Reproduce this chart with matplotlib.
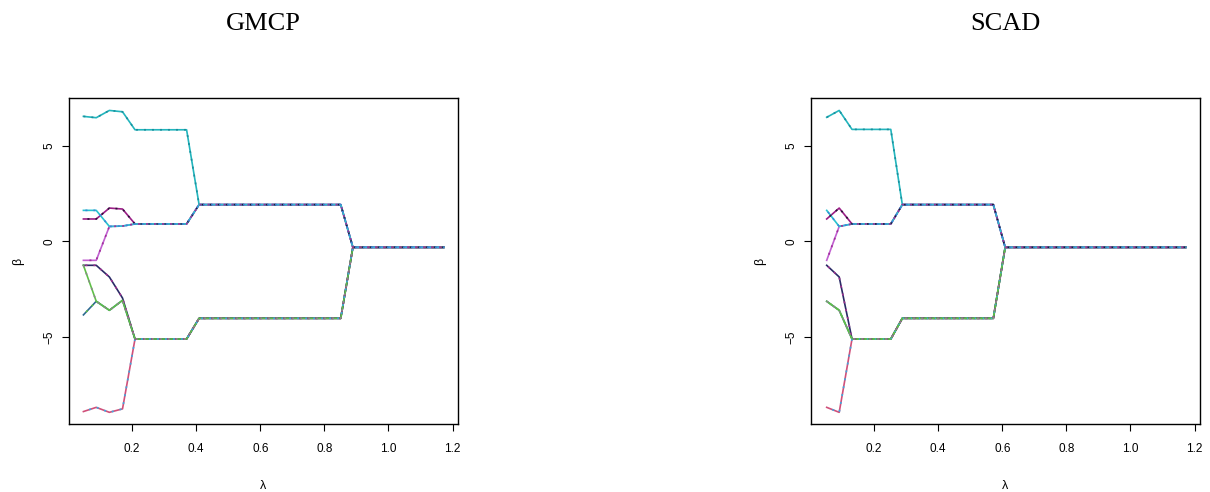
import matplotlib
matplotlib.use("Agg")
import matplotlib.pyplot as plt

# lambda grid points where the paths bend
gmcp_lambda = [0.048, 0.088, 0.129, 0.170, 0.209, 0.370, 0.409, 0.851, 0.889, 1.173]
scad_lambda = [0.052, 0.091, 0.131, 0.252, 0.288, 0.572, 0.609, 1.173]

# coefficient paths, GMCP
gmcp_paths = {
    "top":    [6.53, 6.46, 6.84, 6.77, 5.83, 5.83, 1.92, 1.92, -0.31, -0.31],
    "mid_a":  [1.62, 1.62, 0.78, 0.80, 0.91, 0.91, 1.92, 1.92, -0.31, -0.31],
    "mid_b":  [1.17, 1.17, 1.74, 1.69, 0.91, 0.91, 1.92, 1.92, -0.31, -0.31],
    "mid_c":  [-0.99, -0.99, 0.78, 0.80, 0.91, 0.91, 1.92, 1.92, -0.31, -0.31],
    "low_a":  [-1.25, -1.25, -1.86, -2.96, -5.10, -5.10, -4.02, -4.02, -0.31, -0.31],
    "low_b":  [-1.25, -3.13, -3.60, -3.08, -5.10, -5.10, -4.02, -4.02, -0.31, -0.31],
    "low_c":  [-3.84, -3.13, -3.60, -3.08, -5.10, -5.10, -4.02, -4.02, -0.31, -0.31],
    "bottom": [-8.89, -8.67, -8.93, -8.75, -5.10, -5.10, -4.02, -4.02, -0.31, -0.31],
}

# coefficient paths, SCAD
scad_paths = {
    "top":    [6.48, 6.84, 5.85, 5.85, 1.92, 1.92, -0.31, -0.31],
    "mid_a":  [1.62, 0.78, 0.91, 0.91, 1.92, 1.92, -0.31, -0.31],
    "mid_b":  [1.17, 1.74, 0.91, 0.91, 1.92, 1.92, -0.31, -0.31],
    "mid_c":  [-0.99, 0.78, 0.91, 0.91, 1.92, 1.92, -0.31, -0.31],
    "low_a":  [-1.25, -1.86, -5.10, -5.10, -4.02, -4.02, -0.31, -0.31],
    "low_b":  [-3.13, -3.60, -5.10, -5.10, -4.02, -4.02, -0.31, -0.31],
    "low_c":  [-3.13, -3.60, -5.10, -5.10, -4.02, -4.02, -0.31, -0.31],
    "bottom": [-8.67, -8.93, -5.10, -5.10, -4.02, -4.02, -0.31, -0.31],
}

# base colour, dash colour per coefficient (overlapping ones give the mixed look)
path_colors = {
    "top":    ["#22b5bd", "#1a8f9c"],
    "mid_a":  ["#27c3cf", "#3a86d8"],
    "mid_b":  ["#9a1d86", "#2a1238"],
    "mid_c":  ["#c15fd0", "#a02f9a"],
    "low_a":  ["#2a2a66", "#a3308f"],
    "low_b":  ["#5fbf48", "#8a8a8a"],
    "low_c":  ["#2d6a8f", "#5fbf48"],
    "bottom": ["#d0507a", "#3fa6e0"],
}
# order of the solid bases, last one shows where paths coincide
base_order = ["top", "bottom", "low_c", "low_a", "low_b", "mid_c", "mid_b", "mid_a"]

plt.rcParams["font.family"] = ["Liberation Sans", "DejaVu Sans"]

fig = plt.figure(figsize=(12.10, 4.92), dpi=100)
W, H = 1210, 492


def panel(left_px, title, lam, paths):
    ax = fig.add_axes([left_px / W, (H - 424) / H, 389 / W, 326 / H])
    for name in base_order:
        ax.plot(lam, paths[name], color=path_colors[name][0], lw=1.2)
    for i, name in enumerate(base_order):
        ax.plot(lam, paths[name], color=path_colors[name][1], lw=1.2,
                linestyle=((i % 4) * 1.2, (1.2, 3.6)), dash_capstyle="butt")
    ax.set_xlim(0.003, 1.217)
    ax.set_ylim(-9.54, 7.49)
    ax.set_xticks([0.2, 0.4, 0.6, 0.8, 1.0, 1.2])
    ax.set_xticklabels(["0.2", "0.4", "0.6", "0.8", "1.0", "1.2"])
    ax.set_yticks([-5, 0, 5])
    ax.set_yticklabels(["\u22125", "0", "5"], rotation=90, va="center")
    ax.tick_params(direction="out", length=5, width=0.8, labelsize=8.5, colors="black")
    ax.tick_params(axis="x", pad=9)
    ax.tick_params(axis="y", pad=5)
    for s in ax.spines.values():
        s.set_linewidth(1.0)
        s.set_color("black")
    ax.set_xlabel("\u03bb", fontsize=9, labelpad=18)
    ax.set_ylabel("\u03b2", fontsize=9, labelpad=14)
    fig.text((left_px + 194.5) / W, 1 - 24 / H, title, ha="center", va="center",
             fontsize=19, family=["Liberation Serif", "DejaVu Serif"])
    return ax


panel(69, "GMCP", gmcp_lambda, gmcp_paths)
panel(811, "SCAD", scad_lambda, scad_paths)

fig.savefig("out.png", dpi=100, facecolor="white")
